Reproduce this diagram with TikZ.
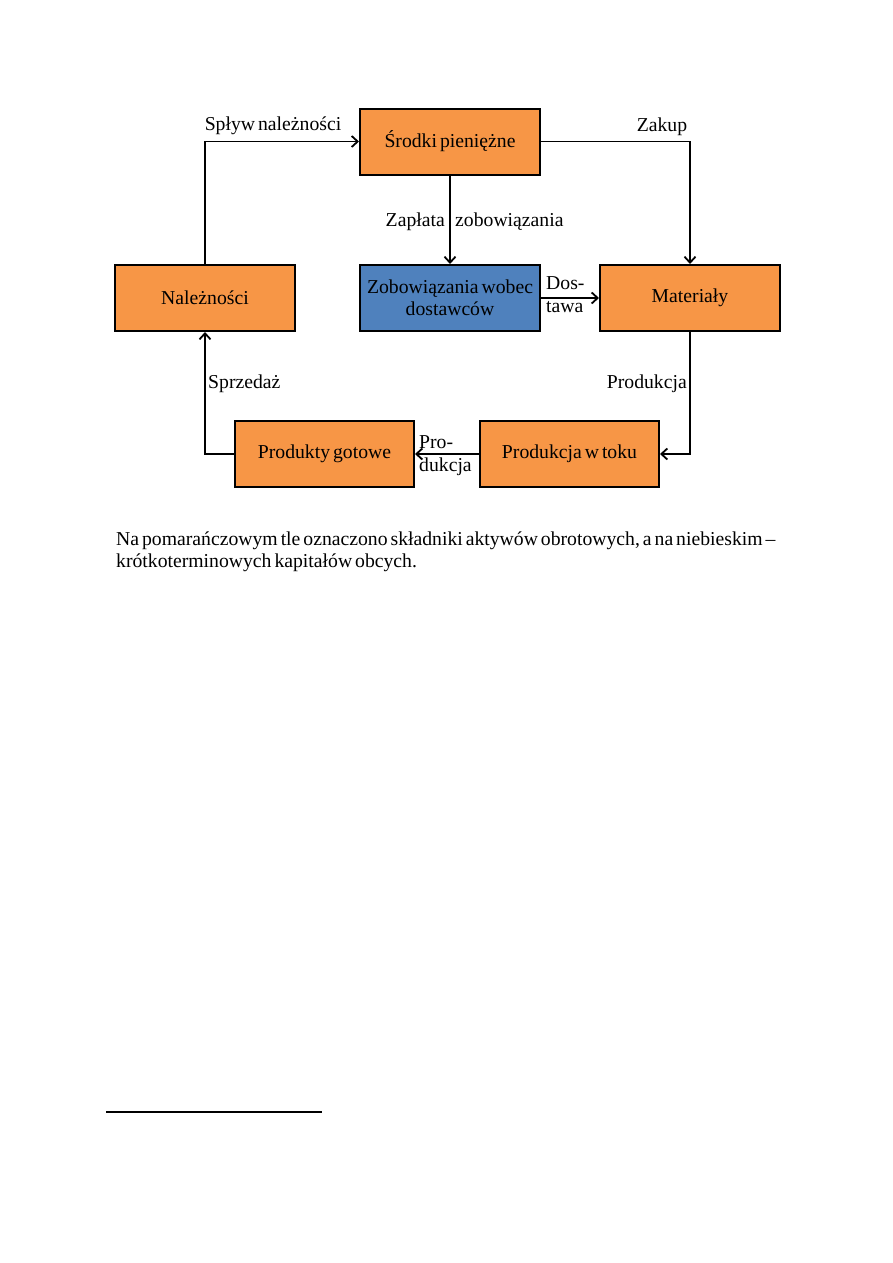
\documentclass[tikz,border=0pt]{standalone}
\usepackage{fontspec}
\setmainfont[WordSpace=0.6]{Liberation Serif}
\usepackage{tikz}
\usetikzlibrary{arrows.meta}
\definecolor{figline}{RGB}{0,0,0}
\definecolor{figorange}{RGB}{247,150,70}
\definecolor{figblue}{RGB}{79,129,189}
\tikzset{
  box/.style  ={draw=figline, line width=2pt, fill=figorange, minimum width=180pt,
                minimum height=66pt, align=center, inner sep=2pt,
                font=\rmfamily\fontsize{19.7}{22}\selectfont},
  boxb/.style ={box, fill=figblue},
  lab/.style  ={font=\rmfamily\fontsize{19.7}{22}\selectfont, inner sep=1pt},
  labs/.style ={font=\rmfamily\fontsize{19.7}{23}\selectfont, inner sep=1pt, align=left},
  ptr/.style  ={draw=figline, line width=1.8pt, -{Straight Barb[length=6pt,width=11pt]}},
}
\begin{document}
\begin{tikzpicture}[x=1pt,y=-1pt]
  \fill[white] (0,0) rectangle (893,1263);
  \useasboundingbox (0,0) rectangle (893,1263);
  % boxes
  \node[box] (srodki) at (450,141.5) {Środki pieniężne};
  \node[box] (nal) at (205,298) {Należności};
  \node[boxb] (zob) at (450,298) {Zobowiązania wobec\\dostawców};
  \node[box] (mat) at (690,298) {Materiały};
  \node[box, minimum width=179pt] (gotowe) at (324.5,454) {Produkty gotowe};
  \node[box, minimum width=179pt] (wtoku) at (569.5,454) {Produkcja w toku};
  % flows
  \draw[ptr] (nal.north) |- (srodki.west);
  \node[lab] (splyw) at (273,126) {Spływ należności};
  \draw[ptr] (srodki.east) -| (mat.north);
  \node[lab] (zakup) at (662,127) {Zakup};
  \draw[ptr] (srodki.south) -- (zob.north);
  \node[lab, anchor=east] (zapl) at (446,222) {Zapłata};
  \node[lab, anchor=west] (zobl) at (454,222) {zobowiązania};
  \draw[ptr] (zob.east) -- (mat.west);
  \node[labs, anchor=west] (dost) at (545,295) {Dos-\\tawa};
  \draw[ptr] (mat.south) |- (wtoku.east);
  \node[lab, anchor=east] (prod) at (688,384) {Produkcja};
  \draw[ptr] (wtoku.west) -- (gotowe.east);
  \node[labs, anchor=west] (prodk) at (418,456) {Pro-\\dukcja};
  \draw[ptr] (gotowe.west) -| (nal.south);
  \node[lab, anchor=west] (sprz) at (207,384) {Sprzedaż};
  % caption
  \node[lab, anchor=west] (opis1) at (115,541) {Na pomarańczowym tle oznaczono składniki aktywów obrotowych, a na niebieskim –};
  \node[lab, anchor=west] (opis2) at (115,563) {krótkoterminowych kapitałów obcych.};
  % footnote rule
  \draw[figline, line width=1.3pt] (106,1112) -- (322,1112);
\end{tikzpicture}
\end{document}
